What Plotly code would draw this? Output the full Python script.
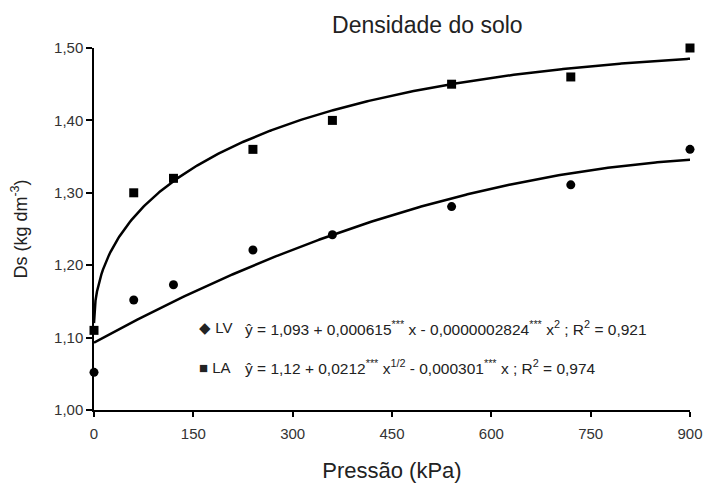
import numpy as np
import plotly.graph_objects as go

# Data
pressao = [0, 60, 120, 240, 360, 540, 720, 900]
ds_lv = [1.052, 1.152, 1.173, 1.221, 1.242, 1.281, 1.311, 1.360]
ds_la = [1.11, 1.30, 1.32, 1.36, 1.40, 1.45, 1.46, 1.50]

# Regression coefficients (drawn curves)
coef_lv = [1.093, 0.000502, -0.0000002459]      # a + b x + c x^2
coef_la = [1.12, 0.0212, -0.000301]              # a + b x^0.5 + c x

y_ticks = [1.00, 1.10, 1.20, 1.30, 1.40, 1.50]
x_ticks = [0, 150, 300, 450, 600, 750, 900]

eq_lv = ("ŷ = 1,093 + 0,000615<sup>***</sup> x - 0,0000002824<sup>***</sup> x<sup>2</sup> ; "
         "R<sup>2</sup> = 0,921")
eq_la = ("ŷ = 1,12 + 0,0212<sup>***</sup> x<sup>1/2</sup> - 0,000301<sup>***</sup> x ; "
         "R<sup>2</sup> = 0,974")

xc = np.linspace(0, 900, 400)
y_lv = coef_lv[0] + coef_lv[1] * xc + coef_lv[2] * xc ** 2
y_la = coef_la[0] + coef_la[1] * np.sqrt(xc) + coef_la[2] * xc

sans = "Liberation Sans, Arial, sans-serif"

fig = go.Figure()
fig.add_trace(go.Scatter(x=xc, y=y_lv, mode="lines", line=dict(color="black", width=2.5),
                         showlegend=False, cliponaxis=False))
fig.add_trace(go.Scatter(x=xc, y=y_la, mode="lines", line=dict(color="black", width=2.5),
                         showlegend=False, cliponaxis=False))
fig.add_trace(go.Scatter(x=pressao, y=ds_lv, mode="markers",
                         marker=dict(symbol="circle", size=9, color="black"),
                         showlegend=False, cliponaxis=False))
fig.add_trace(go.Scatter(x=pressao, y=ds_la, mode="markers",
                         marker=dict(symbol="square", size=9, color="black"),
                         showlegend=False, cliponaxis=False))

fig.add_annotation(x=0.172, y=0.227, xref="paper", yref="paper", xanchor="left", yanchor="middle",
                   text="◆ LV", showarrow=False, font=dict(family=sans, size=15, color="#222"))
fig.add_annotation(x=0.172, y=0.118, xref="paper", yref="paper", xanchor="left", yanchor="middle",
                   text="■ LA", showarrow=False, font=dict(family=sans, size=15, color="#222"))
fig.add_annotation(x=0.25, y=0.227, xref="paper", yref="paper", xanchor="left", yanchor="middle",
                   text=eq_lv, showarrow=False, font=dict(family=sans, size=15.5, color="#222"))
fig.add_annotation(x=0.25, y=0.118, xref="paper", yref="paper", xanchor="left", yanchor="middle",
                   text=eq_la, showarrow=False, font=dict(family=sans, size=15.5, color="#222"))

fig.update_layout(
    width=704, height=486,
    margin=dict(l=94, r=14, t=48, b=76),
    paper_bgcolor="white", plot_bgcolor="white",
    separators=",.",
    title=dict(text="Densidade do solo", x=0.607, xanchor="center", y=0.948, yanchor="middle",
               font=dict(family=sans, size=23, color="#222")),
    xaxis=dict(range=[0, 900], tickvals=x_ticks, ticks="outside", ticklen=5, tickwidth=1.5,
               tickcolor="black", showline=True, linecolor="black", linewidth=1.5,
               showgrid=False, zeroline=False, ticklabelstandoff=4, automargin=False,
               tickfont=dict(family=sans, size=15, color="#333"),
               title=dict(text="Pressão (kPa)", font=dict(family=sans, size=22, color="#222"),
                          standoff=22)),
    yaxis=dict(range=[1.0, 1.5], tickvals=y_ticks, tickformat=".2f", ticks="outside",
               ticklen=6, tickwidth=1.5, tickcolor="black", showline=True, linecolor="black",
               linewidth=1.5, showgrid=False, zeroline=False, automargin=False,
               tickfont=dict(family=sans, size=15, color="#333"),
               title=dict(text="Ds (kg dm<sup>-3</sup>)", font=dict(family=sans, size=18, color="#222"),
                          standoff=22)),
)

fig.write_html("out.html")
